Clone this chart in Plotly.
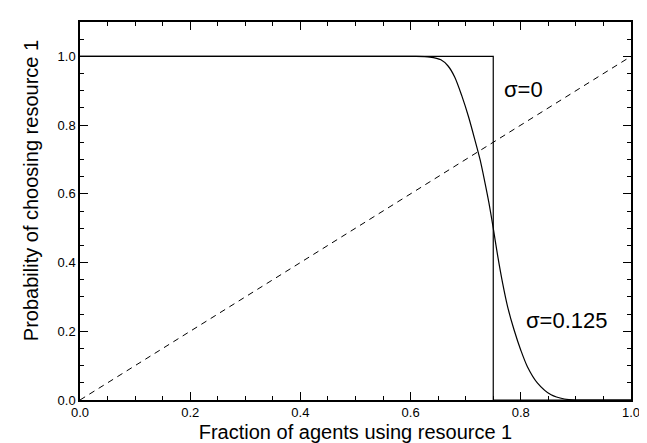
import plotly.graph_objects as go

# --- data ---
step_x = [0.0, 0.75, 0.75, 1.0]
step_y = [1.0, 1.0, 0.0, 0.0]

smooth_x = [0.0, 0.60, 0.635, 0.655, 0.668, 0.680, 0.693, 0.705, 0.717, 0.726, 0.734, 0.742, 0.75,
            0.758, 0.767, 0.776, 0.788, 0.800, 0.812, 0.830, 0.855, 0.879, 0.90, 1.0]
smooth_y = [1.0, 1.0, 0.998, 0.99, 0.972, 0.94, 0.885, 0.825, 0.755, 0.70, 0.64, 0.575, 0.50,
            0.42, 0.34, 0.272, 0.203, 0.145, 0.097, 0.05, 0.015, 0.003, 0.0, 0.0]

diag_x = [0.0, 1.0]
diag_y = [0.0, 1.0]

x_ticks = [0.0, 0.2, 0.4, 0.6, 0.8, 1.0]
y_ticks = [0.0, 0.2, 0.4, 0.6, 0.8, 1.0]

FONT = "Liberation Sans, Arial, Helvetica, sans-serif"

fig = go.Figure()
fig.add_trace(go.Scatter(x=step_x, y=step_y, mode="lines",
                         line=dict(color="black", width=1.2), showlegend=False))
fig.add_trace(go.Scatter(x=smooth_x, y=smooth_y, mode="lines", line_shape="spline",
                         line=dict(color="black", width=1.2, smoothing=0.8), showlegend=False))
fig.add_trace(go.Scatter(x=diag_x, y=diag_y, mode="lines",
                         line=dict(color="black", width=1, dash="6px,5px"), showlegend=False))

fig.add_annotation(x=0.765, y=0.905, text="σ=0", showarrow=False, xanchor="left",
                   font=dict(size=22, color="black", family=FONT))
fig.add_annotation(x=0.806, y=0.23, text="σ=0.125", showarrow=False, xanchor="left",
                   font=dict(size=22, color="black", family=FONT))
# y-axis title (placed as rotated paper text, sits a little above the plot centre)
fig.add_annotation(x=-0.089, y=0.555, xref="paper", yref="paper",
                   text="Probability of choosing resource 1", textangle=-90,
                   showarrow=False, xanchor="center", yanchor="middle",
                   font=dict(size=20, color="black", family=FONT))

axis_common = dict(
    showgrid=False, zeroline=False, showline=True, linecolor="black", linewidth=1.5,
    mirror="allticks", ticks="inside", ticklen=8, tickwidth=1, tickcolor="black",
    tickfont=dict(size=13, color="black", family=FONT), tickformat=".1f", automargin=False,
)

fig.update_xaxes(range=[0, 1], tickvals=x_ticks, **axis_common,
                 minor=dict(dtick=0.05, tick0=0, ticks="inside", ticklen=4, tickcolor="black", tickwidth=1),
                 title=dict(text="Fraction of agents using resource 1",
                            font=dict(size=20, color="black", family=FONT), standoff=6))
fig.update_yaxes(range=[0, 1.1], tickvals=y_ticks, **axis_common,
                 minor=dict(dtick=0.05, tick0=0, ticks="inside", ticklen=4, tickcolor="black", tickwidth=1))

fig.update_layout(width=647, height=443, plot_bgcolor="white", paper_bgcolor="white",
                  margin=dict(l=72, r=24, t=14, b=51, autoexpand=False))

fig.write_html("out.html")
